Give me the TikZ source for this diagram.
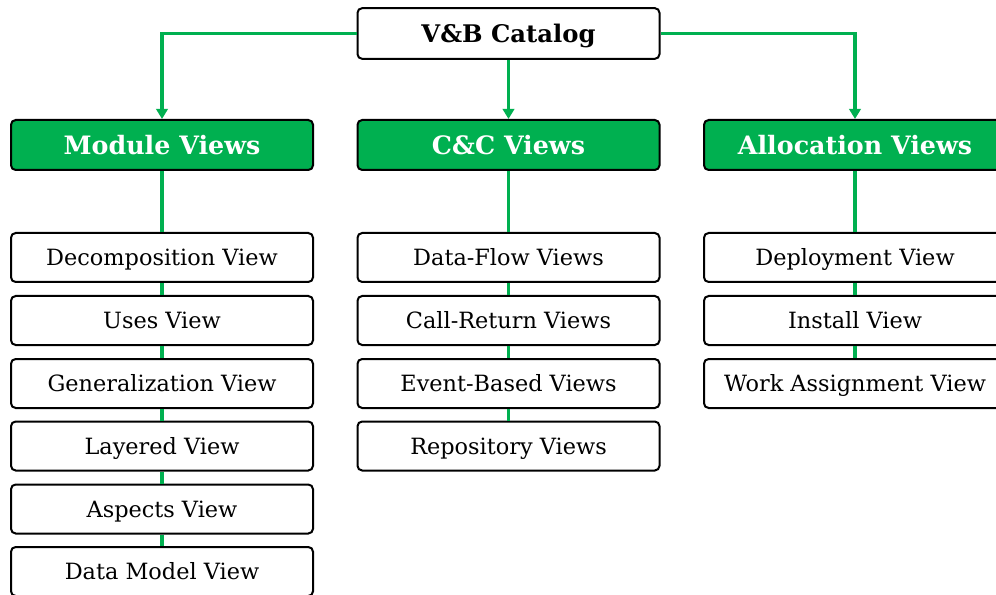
\documentclass[tikz,border=0pt]{standalone}
\usepackage{fontspec}
\setmainfont{DejaVu Serif}
\usetikzlibrary{arrows.meta}
\definecolor{vbgreen}{RGB}{0,176,80}
\tikzset{
  base/.style={draw=black, line width=1.5pt, rounded corners=3.5pt, minimum width=226.5pt,
    inner sep=0pt, anchor=center, text depth=0pt},
  topbox/.style={base, fill=white, minimum height=38pt, text height=13.3pt,
    font=\fontsize{18.2}{21}\selectfont\bfseries},
  headbox/.style={base, fill=vbgreen, text=white, minimum height=37.5pt, text height=13.9pt,
    font=\fontsize{19}{22}\selectfont\bfseries},
  itembox/.style={base, fill=white, minimum height=36.75pt, text height=12.3pt,
    font=\fontsize{16.8}{20}\selectfont},
  link/.style={draw=vbgreen, line width=2.4pt},
  arrowlink/.style={link, -{Triangle[width=8.5pt,length=7.5pt]}}
}
\begin{document}
\begin{tikzpicture}[x=0.75pt, y=-0.75pt]
\useasboundingbox (0,0) rectangle (996,595);
\clip (0,0) rectangle (996,595);
\fill[white] (0,0) rectangle (996,595);

% catalog root
\node[topbox] (cat) at (508.5,33.5) {V\&B Catalog};

% view-type headers
\node[headbox] (mod) at (162,145) {Module Views};
\node[headbox] (cc)  at (508.5,145) {C\&C Views};
\node[headbox] (alc) at (855,145) {Allocation Views};

% module views
\node[itembox] (m1) at (162,257.5) {Decomposition View};
\node[itembox] (m2) at (162,320.5) {Uses View};
\node[itembox] (m3) at (162,383.5) {Generalization View};
\node[itembox] (m4) at (162,446) {Layered View};
\node[itembox] (m5) at (162,509) {Aspects View};
\node[itembox] (m6) at (162,571.5) {Data Model View};

% component-and-connector views
\node[itembox] (c1) at (508.5,257.5) {Data-Flow Views};
\node[itembox] (c2) at (508.5,320.5) {Call-Return Views};
\node[itembox] (c3) at (508.5,383.5) {Event-Based Views};
\node[itembox] (c4) at (508.5,446) {Repository Views};

% allocation views
\node[itembox] (a1) at (855,257.5) {Deployment View};
\node[itembox] (a2) at (855,320.5) {Install View};
\node[itembox] (a3) at (855,383.5) {Work Assignment View};

% connectors from the root
\draw[arrowlink] (cat.west) -| (mod.north);
\draw[arrowlink] (cat.south) -- (cc.north);
\draw[arrowlink] (cat.east) -| (alc.north);

% column chains
\draw[link] (mod.south) -- (m1.north);
\foreach \a/\b in {m1/m2,m2/m3,m3/m4,m4/m5,m5/m6} \draw[link] (\a.south) -- (\b.north);
\draw[link] (cc.south) -- (c1.north);
\foreach \a/\b in {c1/c2,c2/c3,c3/c4} \draw[link] (\a.south) -- (\b.north);
\draw[link] (alc.south) -- (a1.north);
\foreach \a/\b in {a1/a2,a2/a3} \draw[link] (\a.south) -- (\b.north);
\end{tikzpicture}
\end{document}
